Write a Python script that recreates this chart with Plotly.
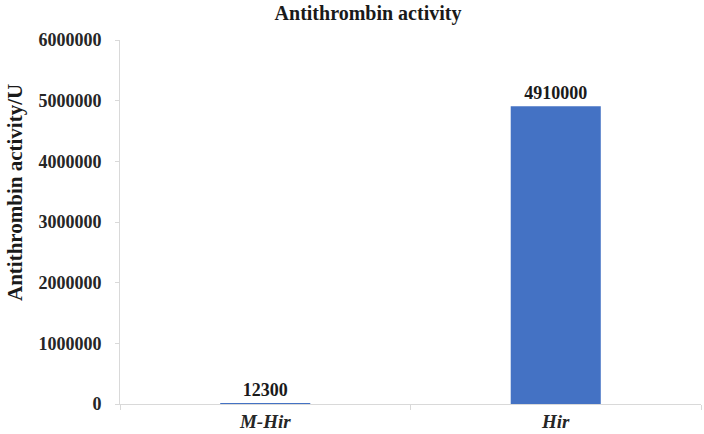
import plotly.graph_objects as go

categories = ["M-Hir", "Hir"]
values = [12300, 4910000]
value_labels = ["12300", "4910000"]
y_ticks = [0, 1000000, 2000000, 3000000, 4000000, 5000000, 6000000]
y_tick_labels = [str(v) for v in y_ticks]

FONT = "Liberation Serif, Times New Roman, serif"

fig = go.Figure()
fig.add_trace(go.Bar(
    x=categories,
    y=values,
    marker=dict(color="#4472C4", line=dict(width=0)),
    text=value_labels,
    textposition="outside",
    cliponaxis=False,
    textfont=dict(family=FONT, size=18, color="#1a1a1a", weight="bold"),
))

fig.update_layout(
    width=704,
    height=434,
    margin=dict(l=120, r=3, t=40, b=30, autoexpand=False),
    paper_bgcolor="white",
    plot_bgcolor="white",
    bargap=0.69,
    showlegend=False,
    title=dict(
        text="Antithrombin activity",
        font=dict(family=FONT, size=20, color="#1a1a1a", weight="bold"),
        x=368 / 704, xref="container", xanchor="center",
        y=1 - 13 / 434, yref="container", yanchor="middle",
        automargin=False,
    ),
    xaxis=dict(
        type="category",
        automargin=False,
        showline=True, linecolor="#d9d9d9", linewidth=1,
        ticks="outside", tickson="boundaries", ticklen=5, tickcolor="#d9d9d9",
        showgrid=False,
        tickfont=dict(family=FONT, size=19, color="#262626", weight="bold", style="italic"),
    ),
    yaxis=dict(
        range=[0, 6000000],
        automargin=False,
        tickvals=y_ticks,
        ticktext=y_tick_labels,
        showline=True, linecolor="#d9d9d9", linewidth=1,
        ticks="outside", ticklen=4, tickcolor="#d9d9d9",
        ticklabelstandoff=10,
        showgrid=False, zeroline=False,
        tickfont=dict(family=FONT, size=18, color="#262626", weight="bold"),
    ),
)

fig.add_annotation(
    text="Antithrombin activity/U",
    xref="paper", yref="paper",
    x=0, y=0.5,
    xanchor="center", yanchor="middle",
    xshift=-(120 - 15),
    yshift=(222 - 193),
    textangle=-90,
    showarrow=False,
    font=dict(family=FONT, size=21, color="#1a1a1a", weight="bold"),
)

fig.write_html(
    "out.html",
    config={"displayModeBar": False},
    post_script="document.body.style.margin='0';document.body.style.overflow='hidden';",
)
